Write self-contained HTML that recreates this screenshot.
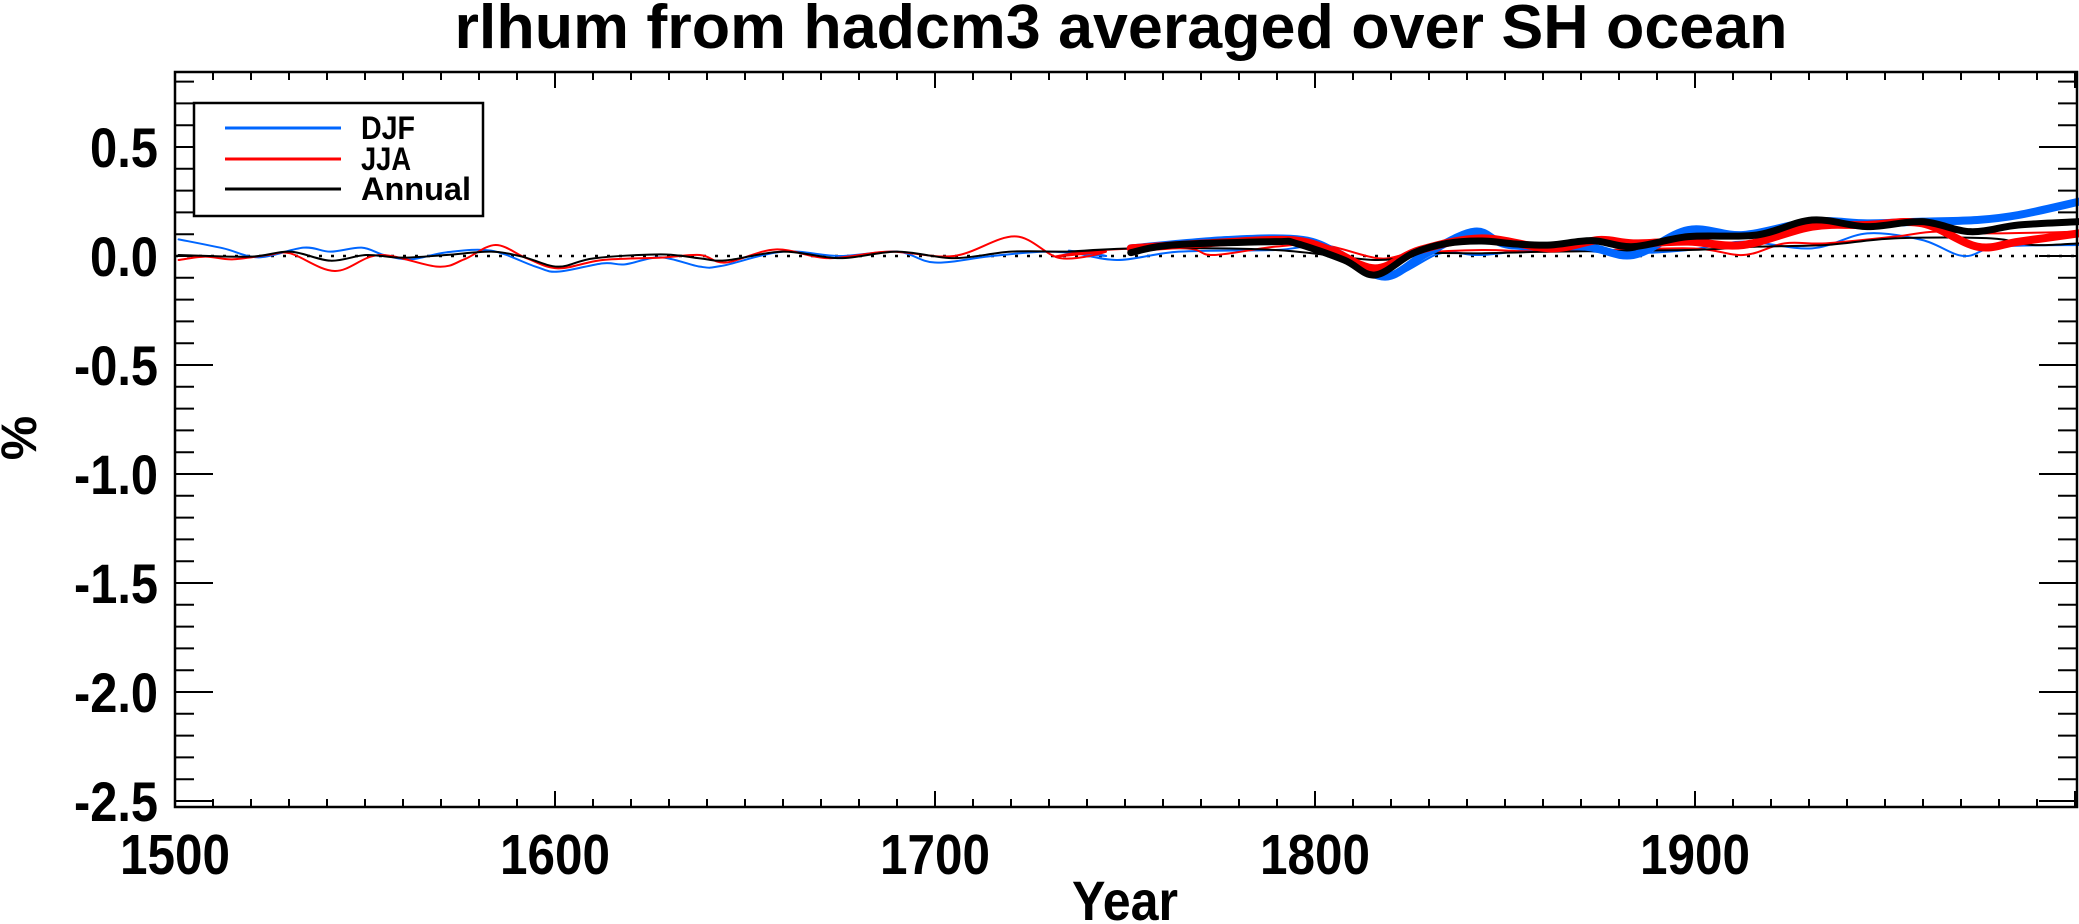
<!DOCTYPE html>
<html><head><meta charset="utf-8"><style>
html,body{margin:0;padding:0;background:#fff;}
svg{display:block;font-family:"Liberation Sans",Arial,sans-serif;font-weight:bold;}
</style></head><body>
<svg id="s" width="2079" height="924" viewBox="0 0 2079 924" xmlns="http://www.w3.org/2000/svg">
<text x="1121" y="48" font-size="62" text-anchor="middle" textLength="1333" lengthAdjust="spacingAndGlyphs">rlhum from hadcm3 averaged over SH ocean</text>
<g id="ax"></g>
<g id="series" fill="none" stroke-linejoin="round" stroke-linecap="round"></g>
<rect x="175" y="72" width="1902" height="735" fill="none" stroke="#000" stroke-width="2.5"/>
<rect x="194" y="103" width="289" height="113" fill="#fff" stroke="#000" stroke-width="2.5"/>
<line x1="225" y1="128" x2="341" y2="128" stroke="#0066ff" stroke-width="3"/>
<line x1="225" y1="159" x2="341" y2="159" stroke="#ff0000" stroke-width="3"/>
<line x1="225" y1="189" x2="341" y2="189" stroke="#000" stroke-width="3"/>
<text x="361" y="139" font-size="32" textLength="54" lengthAdjust="spacingAndGlyphs">DJF</text>
<text x="361" y="170" font-size="32" textLength="50" lengthAdjust="spacingAndGlyphs">JJA</text>
<text x="361" y="200" font-size="32" textLength="110" lengthAdjust="spacingAndGlyphs">Annual</text>
<text x="1125" y="920" font-size="56" text-anchor="middle" textLength="106" lengthAdjust="spacingAndGlyphs">Year</text>
<text transform="translate(36,438) rotate(-90)" font-size="50" text-anchor="middle">%</text>
</svg>
<script>
var NS="http://www.w3.org/2000/svg";
function X(yr){return 175+(yr-1500)*3.8;}
function Y(v){return 256-v*218;}
var ax=document.getElementById('ax');
function el(t,a,p){var e=document.createElementNS(NS,t);for(var k in a)e.setAttribute(k,a[k]);(p||ax).appendChild(e);return e;}
el('line',{x1:175,y1:256,x2:2077,y2:256,stroke:'#000','stroke-width':2.5,'stroke-dasharray':'3,9'});
for(var yr=1500;yr<=2000;yr+=10){var x=X(yr);var L=(yr%100==0)?16:8;
 el('line',{x1:x,y1:807,x2:x,y2:807-L,stroke:'#000','stroke-width':2});
 el('line',{x1:x,y1:72,x2:x,y2:72+L,stroke:'#000','stroke-width':2});
 if(yr%100==0&&yr<2000){var t=el('text',{x:x,y:874,'font-size':57,'text-anchor':'middle',textLength:110,lengthAdjust:'spacingAndGlyphs'});t.textContent=yr;}}
for(var i=-25;i<=8;i++){var v=i/10,y=Y(v);var maj=(i%5==0);var L=maj?38:19;
 el('line',{x1:175,y1:y,x2:175+L,y2:y,stroke:'#000','stroke-width':2});
 el('line',{x1:2077,y1:y,x2:2077-L,y2:y,stroke:'#000','stroke-width':2});
 if(maj){var s=v.toFixed(1);var t=el('text',{x:158,y:y+20,'font-size':56,'text-anchor':'end',textLength:(s.length==3?68:84),lengthAdjust:'spacingAndGlyphs'});t.textContent=s;}}
function z1(zx,zy){return [1500+(zx/2.24-175)/3.8,(256-zy/3)/218];}
function z2(zx,zy){return [1500+((1000+zx/1.453)-175)/3.8,(228-zy)/654];}
function path(pts,col,w){
 var P=pts.map(function(p){return [X(p[0]),Y(p[1])];});
 var d="M"+P[0][0]+","+P[0][1];
 for(var i=0;i<P.length-1;i++){var p0=P[i-1]||P[i],p1=P[i],p2=P[i+1],p3=P[i+2]||P[i+1];
  d+=" C"+(p1[0]+(p2[0]-p0[0])/6)+","+(p1[1]+(p2[1]-p0[1])/6)+" "+(p2[0]-(p3[0]-p1[0])/6)+","+(p2[1]-(p3[1]-p1[1])/6)+" "+p2[0]+","+p2[1];}
 el('path',{d:d,stroke:col,'stroke-width':w},document.getElementById('series'));}
function conv(a,f){return a.map(function(p){return f(p[0],p[1]);});}
var blueA=conv([[400,718],[500,745],[580,772],[680,743],[740,755],[810,743],[860,765],[920,778],[1000,757],[1100,752],[1200,800],[1250,815],[1350,790],[1400,793],[1480,772],[1568,800]],z1);
var redA=conv([[400,780],[460,770],[520,778],[600,765],[650,760],[750,813],[850,765],[980,800],[1040,778],[1110,735],[1180,775],[1250,805],[1350,780],[1480,773],[1568,765]],z1);
var blackA=conv([[400,765],[560,770],[650,755],[740,782],[820,765],[900,773],[1000,765],[1100,755],[1170,770],[1250,800],[1330,775],[1480,763],[1568,775]],z1);
var blueB=[[1644,-0.045],[1660,0.02],[1675,0],[1690,0.02],[1700,-0.03],[1715,0],[1730,0.02],[1745,0.0]];
var redB=[[1645,-0.03],[1658,0.03],[1672,-0.01],[1688,0.02],[1705,0.0],[1721,0.09],[1733,-0.01],[1745,0.02]];
var blackB=[[1645,-0.02],[1660,0.02],[1675,-0.01],[1690,0.02],[1705,-0.01],[1720,0.02],[1735,0.02],[1745,0.03]];
var blueC=conv([[100,212],[170,240],[260,215],[400,210],[480,200],[560,290],[640,220],[700,225],[800,205],[900,220],[1000,210],[1080,185],[1180,205],[1260,160],[1340,180],[1400,228],[1450,200],[1568,195]],z2);
var redC=conv([[80,230],[150,210],[270,205],[310,225],[400,200],[470,195],[550,235],[600,220],[700,210],[800,215],[1000,205],[1080,225],[1140,190],[1200,190],[1300,170],[1360,155],[1440,160],[1568,155]],z2);
var blackC=conv([[100,215],[200,205],[400,210],[545,240],[620,220],[700,220],[800,215],[1000,210],[1100,200],[1200,195],[1300,175],[1440,175],[1500,195],[1568,190]],z2);
path(blueA.concat(blueB,blueC),'#0066ff',2);
path(redA.concat(redB,redC),'#ff0000',2);
path(blackA.concat(blackB,blackC),'#000',2);
path(conv([[190,205],[330,180],[440,180],[500,230],[560,290],[620,220],[690,155],[740,195],[850,200],[920,225],[1000,150],[1080,165],[1180,125],[1260,130],[1340,125],[1420,120],[1480,105],[1568,65]],z2),'#0066ff',8);
path(conv([[190,205],[300,190],[420,180],[480,210],[545,265],[610,210],[700,175],[800,205],[870,180],[920,190],[1000,185],[1080,195],[1180,140],[1260,135],[1340,130],[1420,200],[1480,185],[1568,160]],z2),'#ff0000',8);
path(conv([[190,218],[250,195],[400,185],[430,190],[500,240],[545,285],[600,220],[650,190],[700,183],[750,192],[800,195],[860,182],[920,200],[1000,170],[1100,165],[1180,120],[1260,140],[1340,125],[1410,155],[1480,135],[1568,125]],z2),'#000',7);
</script>
</body></html>
